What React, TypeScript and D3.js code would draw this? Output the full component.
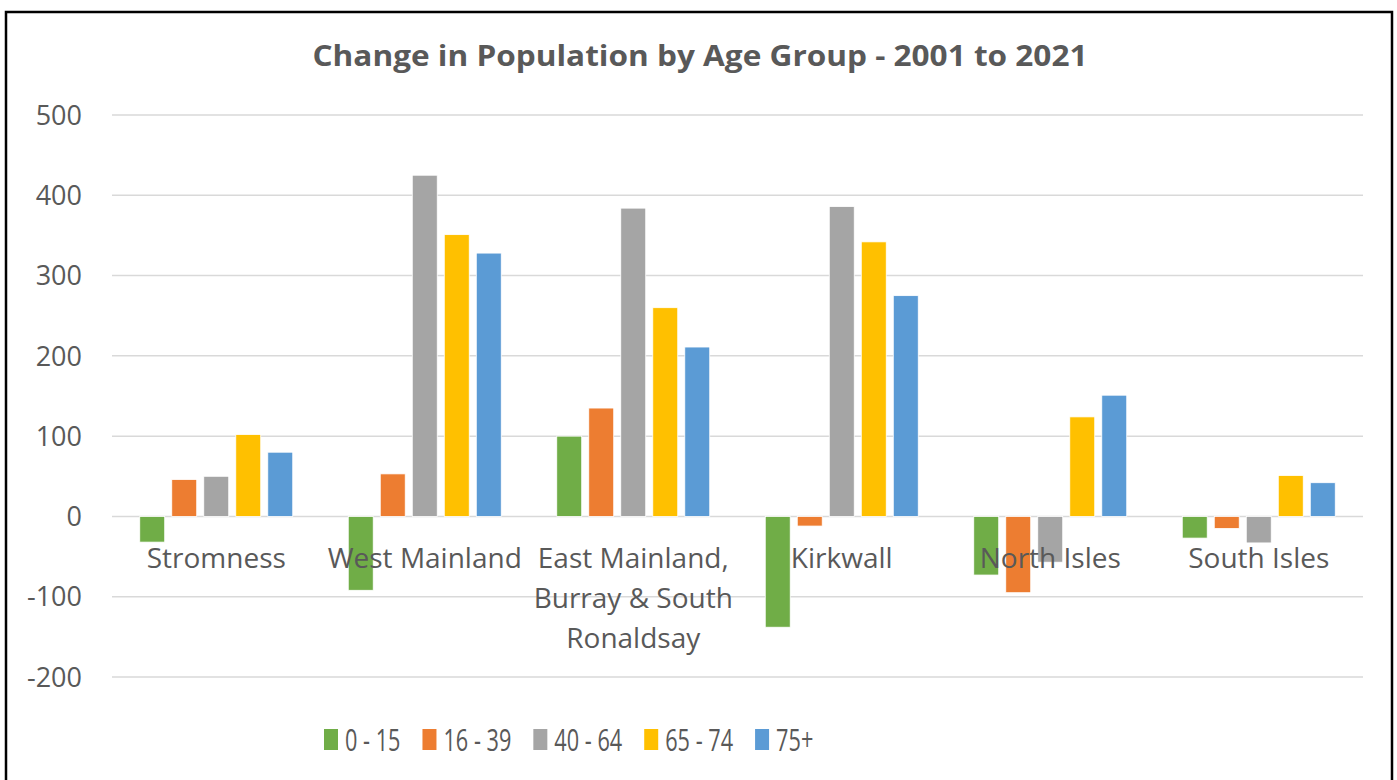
import React, { useEffect, useRef } from "react";
import * as d3 from "d3";

const categories = [
  "Stromness",
  "West Mainland",
  "East Mainland, Burray & South Ronaldsay",
  "Kirkwall",
  "North Isles",
  "South Isles",
];
const categoryLines = [
  ["Stromness"],
  ["West Mainland"],
  ["East Mainland,", "Burray & South", "Ronaldsay"],
  ["Kirkwall"],
  ["North Isles"],
  ["South Isles"],
];
const seriesNames = ["0 - 15", "16 - 39", "40 - 64", "65 - 74", "75+"];
const age0to15 = [-32, -92, 100, -138, -73, -27];
const age16to39 = [46, 53, 135, -12, -95, -15];
const age40to64 = [50, 425, 384, 386, -57, -33];
const age65to74 = [102, 351, 260, 342, 124, 51];
const age75plus = [80, 328, 211, 275, 151, 42];
const yTicks = [-200, -100, 0, 100, 200, 300, 400, 500];

const colors = ["#70AD47", "#ED7D31", "#A5A5A5", "#FFC000", "#5B9BD5"];
const FONT = "'Open Sans', 'Noto Sans', sans-serif";
const TEXT = "#595959";

function drawChart(node: SVGSVGElement) {
  const svg = d3.select(node);
  svg.selectAll("*").remove();
  const W = 1397;
  const H = 780;

  svg.append("rect").attr("width", W).attr("height", H).attr("fill", "#fff");
  // chart border
  svg
    .append("rect")
    .attr("x", 6)
    .attr("y", 12)
    .attr("width", 1386)
    .attr("height", 790)
    .attr("fill", "none")
    .attr("stroke", "#000")
    .attr("stroke-width", 2.5);

  const series = [age0to15, age16to39, age40to64, age65to74, age75plus];

  const x = d3.scaleBand<string>().domain(categories).range([112, 1363]).padding(0);
  const groupPad = (x.bandwidth() - 153) / 2;
  const xi = d3
    .scaleBand<string>()
    .domain(seriesNames)
    .range([groupPad, x.bandwidth() - groupPad])
    .paddingInner(0.22)
    .paddingOuter(0);
  const y = d3.scaleLinear().domain([-200, 500]).range([677, 115]);

  // gridlines
  svg
    .append("g")
    .selectAll("line")
    .data(yTicks)
    .join("line")
    .attr("x1", 112)
    .attr("x2", 1363)
    .attr("y1", (d) => y(d))
    .attr("y2", (d) => y(d))
    .attr("stroke", "#D9D9D9")
    .attr("stroke-width", 1.5);

  // y labels
  svg
    .append("g")
    .selectAll("text")
    .data(yTicks)
    .join("text")
    .attr("x", 82)
    .attr("y", (d) => y(d))
    .attr("dy", "0.36em")
    .attr("text-anchor", "end")
    .attr("font-family", FONT)
    .attr("font-size", 27)
    .attr("fill", TEXT)
    .text((d) => d);

  // bars
  const groups = svg
    .append("g")
    .selectAll("g")
    .data(categories)
    .join("g")
    .attr("transform", (c) => `translate(${x(c)},0)`);

  groups
    .selectAll("rect")
    .data((c, ci) => series.map((s, si) => ({ name: seriesNames[si], v: s[ci], si })))
    .join("rect")
    .attr("x", (d) => xi(d.name)!)
    .attr("width", xi.bandwidth())
    .attr("y", (d) => y(Math.max(0, d.v)))
    .attr("height", (d) => Math.abs(y(d.v) - y(0)))
    .attr("fill", (d) => colors[d.si])
    .attr("stroke", "#fff")
    .attr("stroke-width", 0.8);

  // category labels (drawn over bars, at the zero line)
  svg
    .append("g")
    .selectAll("text")
    .data(categories)
    .join("text")
    .attr("x", (c) => x(c)! + x.bandwidth() / 2)
    .attr("y", 568)
    .attr("text-anchor", "middle")
    .attr("font-family", FONT)
    .attr("font-size", 28)
    .attr("fill", TEXT)
    .each(function (c, i) {
      const t = d3.select(this);
      categoryLines[i].forEach((line, li) => {
        t.append("tspan")
          .attr("x", x(c)! + x.bandwidth() / 2)
          .attr("dy", li === 0 ? 0 : 40)
          .text(line);
      });
    });

  // title
  svg
    .append("text")
    .attr("x", 700)
    .attr("y", 66)
    .attr("text-anchor", "middle")
    .attr("font-family", FONT)
    .attr("font-weight", "bold")
    .attr("font-size", 29)
    .attr("fill", TEXT)
    .attr("textLength", 775)
    .attr("lengthAdjust", "spacingAndGlyphs")
    .text("Change in Population by Age Group - 2001 to 2021");

  // legend: narrow text, items flow left to right
  const squeeze = 0.7;
  const legend = svg.append("g").attr("transform", "translate(324,729)");
  let cursor = 0;
  seriesNames.forEach((name, i) => {
    const item = legend.append("g").attr("transform", `translate(${cursor},0)`);
    item.append("rect").attr("width", 14).attr("height", 21).attr("fill", colors[i]);
    const label = item
      .append("text")
      .attr("transform", `translate(21,22) scale(${squeeze},1)`)
      .attr("font-family", FONT)
      .attr("font-size", 31)
      .attr("fill", TEXT)
      .text(name);
    const w = (label.node() as SVGTextElement).getComputedTextLength() * squeeze;
    cursor += 21 + w + 22;
  });
}

export default function App() {
  const ref = useRef<SVGSVGElement>(null);
  useEffect(() => {
    if (ref.current) drawChart(ref.current);
  }, []);
  return (
    <svg
      ref={ref}
      width={1397}
      height={780}
      style={{ position: "absolute", left: 0, top: 0, display: "block" }}
    />
  );
}
